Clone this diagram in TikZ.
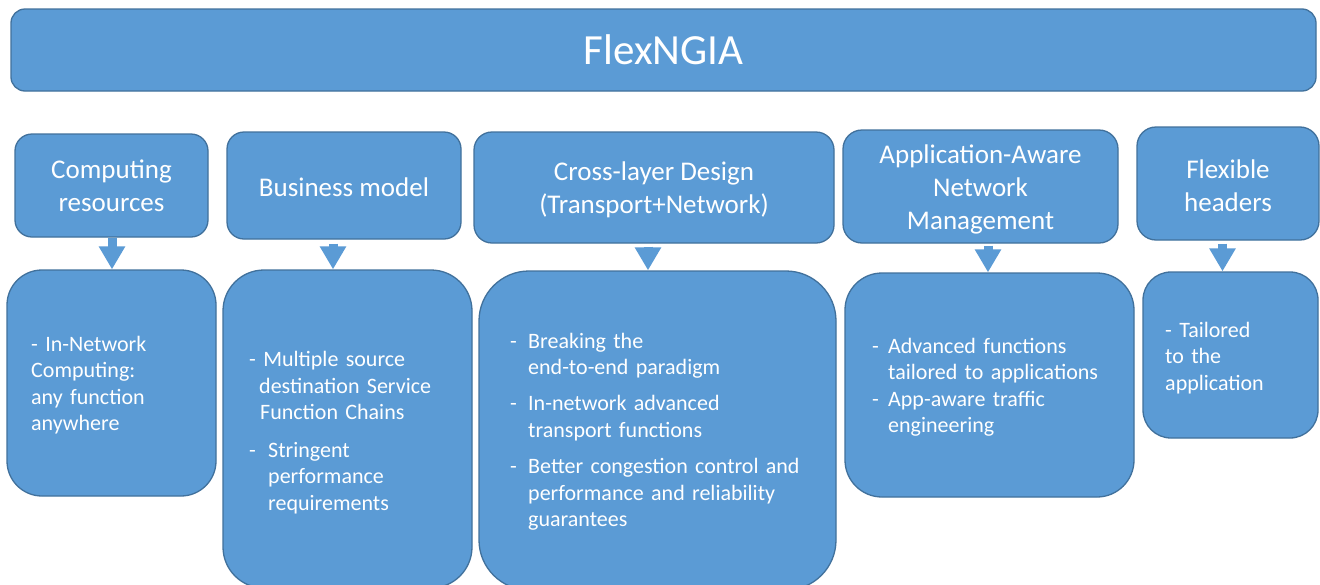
\documentclass[tikz,border=0pt]{standalone}
\usepackage{fontspec}
\setmainfont{Carlito}
\usetikzlibrary{arrows.meta}
\definecolor{boxfill}{HTML}{5B9BD5}
\definecolor{boxline}{HTML}{41719C}
\newcommand{\dn}[2]{\raisebox{-#1}[\height][\depth]{#2}}
\tikzset{
  box/.style={draw=boxline, fill=boxfill, line width=1.3pt, text=white, inner sep=0pt, align=center,
    font=\fontsize{27}{33}\selectfont},
  titlebox/.style={box, font=\fontsize{43}{50}\selectfont},
  bodytext/.style={text=white, inner sep=0pt, align=left, anchor=base west,
    font=\fontsize{22}{26.6}\selectfont},
  barrow/.style={draw=boxfill, line width=9pt, -{Triangle[length=23pt,width=25pt]}},
}
\begin{document}
\begin{tikzpicture}[x=1pt,y=-1pt]
\path[use as bounding box, fill=white] (0,0) rectangle (1320,584);
\clip (0,0) rectangle (1320,584);

% title
\node[titlebox, rounded corners=14pt, minimum width=1305pt, minimum height=82pt] (title) at (663.5,50) {FlexNGIA};

% top boxes
\node[box, rounded corners=17pt, minimum width=193pt, minimum height=103pt] (cr) at (111.5,185.5) {\dn{0.5pt}{Computing}\\\dn{0.5pt}{resources}};
\node[box, rounded corners=17pt, minimum width=234pt, minimum height=107pt] (bm) at (344,185.5) {\dn{2pt}{Business model}};
\node[box, rounded corners=18pt, minimum width=360pt, minimum height=111pt] (cl) at (654,187.5) {\dn{2.5pt}{Cross-layer Design}\\\dn{2.5pt}{(Transport+Network)}};
\node[box, rounded corners=19pt, minimum width=275pt, minimum height=113pt] (aa) at (980.5,186.5) {\dn{3pt}{Application-Aware}\\\dn{3pt}{Network}\\\dn{3pt}{Management}};
\node[box, rounded corners=19pt, minimum width=182pt, minimum height=113pt] (fh) at (1228,183.5) {\dn{2pt}{Flexible}\\\dn{2pt}{headers}};

% bottom boxes
\node[box, rounded corners=35pt, minimum width=209pt, minimum height=226pt] (d1) at (111.5,383) {};
\node[box, rounded corners=41pt, minimum width=249pt, minimum height=318pt] (d2) at (347.5,429) {};
\node[box, rounded corners=50pt, minimum width=357pt, minimum height=319pt] (d3) at (657.5,430.5) {};
\node[box, rounded corners=37pt, minimum width=289pt, minimum height=224pt] (d4) at (989.5,385) {};
\node[box, rounded corners=28pt, minimum width=175pt, minimum height=166pt] (d5) at (1230.5,355) {};

% texts of bottom boxes
\node[bodytext, text width=170pt] (t1) at (31,351) {- In-Network\\Computing:\\any function\\anywhere};
\node[bodytext, text width=210pt] (t2) at (249,366.5) {- Multiple source\\\hspace*{10pt}destination Service\\\hspace*{11pt}Function Chains\\[11pt]\makebox[19pt][l]{-}Stringent\\\hspace*{19pt}performance\\\hspace*{19pt}requirements};
\node[bodytext, text width=320pt] (t3) at (510,348) {\makebox[18pt][l]{-}Breaking the\\\hspace*{18pt}end-to-end paradigm\\[9.5pt]\makebox[18pt][l]{-}In-network advanced\\\hspace*{18pt}transport functions\\[9.5pt]\makebox[18pt][l]{-}Better congestion control and\\\hspace*{18pt}performance and reliability\\\hspace*{18pt}guarantees};
\node[bodytext, text width=250pt] (t4) at (872,353) {\makebox[16pt][l]{-}Advanced functions\\\hspace*{16pt}tailored to applications\\\makebox[16pt][l]{-}App-aware traffic\\\hspace*{16pt}engineering};
\node[bodytext, text width=140pt] (t5) at (1165,337) {- Tailored\\to the\\application};

% arrows
\coordinate (a1) at ([xshift=0.5pt]cr.south);
\coordinate (a2) at ([xshift=-11pt,yshift=-4pt]bm.south);
\coordinate (a3) at ([xshift=-6pt,yshift=-3pt]cl.south);
\coordinate (a4) at ([xshift=7.5pt,yshift=-2pt]aa.south);
\coordinate (a5) at ([xshift=-5.5pt,yshift=-3pt]fh.south);
\draw[barrow] (a1) -- (a1 |- d1.north);
\draw[barrow] (a2) -- (a2 |- d2.north);
\draw[barrow] (a3) -- (a3 |- d3.north);
\draw[barrow] (a4) -- (a4 |- d4.north);
\draw[barrow] (a5) -- (a5 |- d5.north);
\end{tikzpicture}
\end{document}
